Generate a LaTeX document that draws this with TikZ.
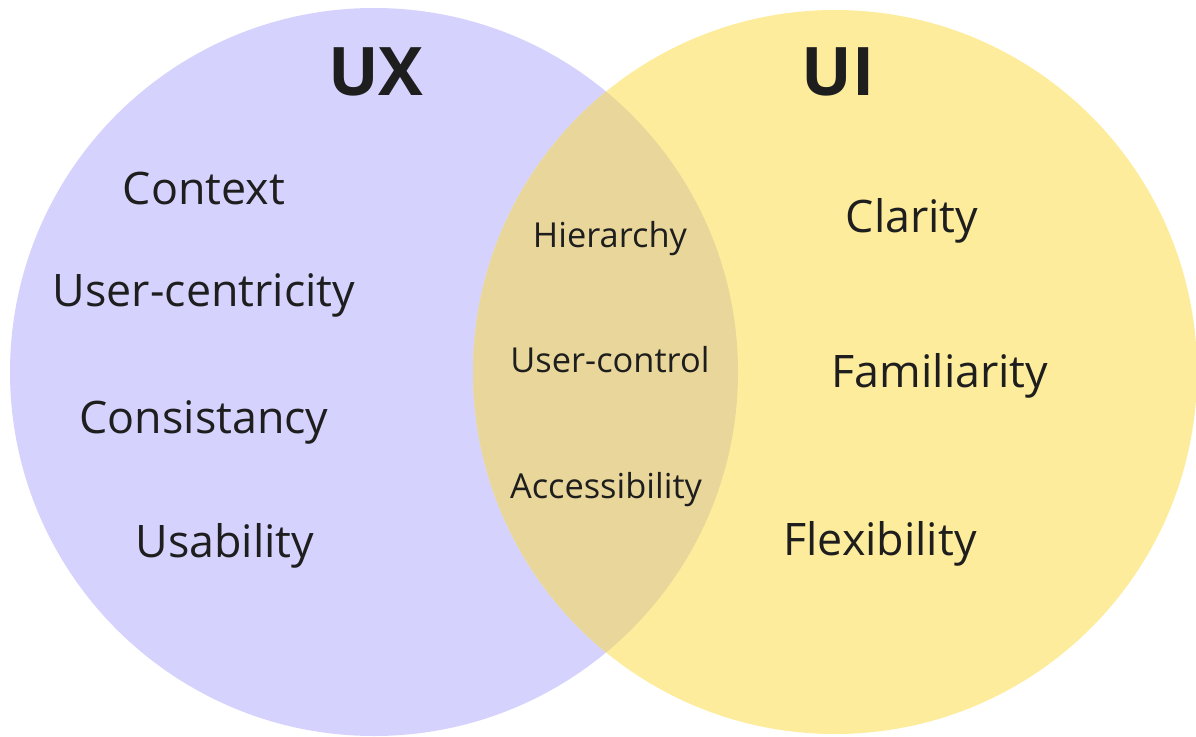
\documentclass[tikz,border=0pt]{standalone}
\usepackage{fontspec}
\setmainfont{Open Sans}
\usepackage{tikz}
\usetikzlibrary{backgrounds,positioning}
\definecolor{fontgray}{RGB}{30, 30, 30}
\definecolor{uxlilac}{RGB}{213, 210, 254}
\definecolor{uiyellow}{RGB}{253, 236, 155}
\definecolor{mixtan}{RGB}{233, 214, 154}

\begin{document}
\begin{tikzpicture}[x=1pt, y=-1pt,
			title/.style={draw=none, anchor=base, inner sep=0pt, text=fontgray, font=\fontsize{67}{70}\selectfont\bfseries},
			word/.style={draw=none, anchor=base, inner sep=0pt, text=fontgray, font=\fontsize{44.8}{48}\selectfont},
			smallword/.style={draw=none, anchor=base, inner sep=0pt, text=fontgray, font=\fontsize{34.4}{38}\selectfont},
			uxset/.style={fill=uxlilac, draw=none},
			uiset/.style={fill=uiyellow, draw=none}
			]
			\useasboundingbox (0,0) rectangle (1196,736);
			\coordinate (uxc) at (374,372);
			\coordinate (uic) at (835,372);
			
			\node[title](ux) at (376,95) {UX};
			\node[title](ui) at (838,95) {UI};
			
			\node[word](context) at (204,204) {Context};
			\node[word](centric) at (204,306) {User-centricity};
			\node[word](consist) at (204,433) {Consistancy};
			\node[word](usab) at (225,557) {Usability};
			
			\node[smallword](hier) at (610,247) {Hierarchy};
			\node[smallword](control) at (610,372) {User-control};
			\node[smallword](access) at (606,498) {Accessibility};
			
			\node[word](clarity) at (912,232) {Clarity};
			\node[word](famil) at (940,387) {Familiarity};
			\node[word](flex) at (880,555) {Flexibility};
			
			\begin{pgfonlayer}{background}
			\fill[uxset] (uxc) circle (364);
			\fill[uiset] (uic) circle (362);
			\begin{scope}
			\clip (uxc) circle (364);
			\fill[mixtan] (uic) circle (362);
			\end{scope}
			\end{pgfonlayer}
			\end{tikzpicture}
\end{document}
